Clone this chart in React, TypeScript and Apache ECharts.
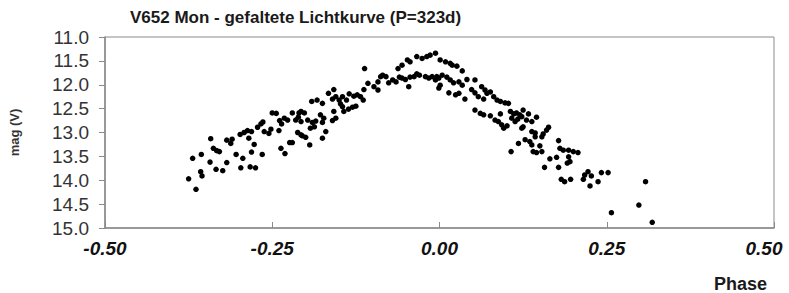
import React, { useEffect, useRef } from "react";
import * as echarts from "echarts";

const titleText = "V652 Mon - gefaltete Lichtkurve (P=323d)";
const xAxisTitle = "Phase";
const yAxisTitle = "mag (V)";

const phase: number[] = [
  -0.375, -0.364, -0.369, -0.356, -0.357, -0.355, -0.342, -0.343, -0.338, -0.333,
  -0.329, -0.334, -0.324, -0.318, -0.318, -0.310, -0.312, -0.304, -0.298, -0.292,
  -0.287, -0.281, -0.294, -0.297, -0.283, -0.275, -0.281, -0.277, -0.285, -0.272,
  -0.267, -0.264, -0.265, -0.262, -0.255, -0.252, -0.250, -0.244, -0.239, -0.236,
  -0.232, -0.227, -0.240, -0.237, -0.231, -0.224, -0.220, -0.220, -0.210, -0.215,
  -0.211, -0.207, -0.212, -0.207, -0.202, -0.207, -0.205, -0.200, -0.193, -0.194,
  -0.197, -0.190, -0.185, -0.187, -0.191, -0.183, -0.175, -0.178, -0.173, -0.175,
  -0.170, -0.175, -0.166, -0.158, -0.155, -0.160, -0.158, -0.160, -0.155, -0.150,
  -0.145, -0.139, -0.135, -0.148, -0.145, -0.143, -0.136, -0.130, -0.125, -0.128,
  -0.123, -0.118, -0.114, -0.113, -0.107, -0.112, -0.098, -0.092, -0.092, -0.088,
  -0.085, -0.076, -0.070, -0.065, -0.060, -0.062, -0.056, -0.048, -0.044, -0.046,
  -0.056, -0.051, -0.044, -0.038, -0.034, -0.030, -0.034, -0.026, -0.019, -0.014,
  -0.006, -0.021, -0.016, -0.011, -0.006, -0.001, -0.001, 0.001, 0.009, 0.019,
  0.026, 0.034, 0.041, 0.053, -0.004, 0.004, 0.011, 0.001, 0.016, 0.021,
  0.029, 0.034, 0.014, 0.024, 0.029, 0.038, 0.048, 0.053, 0.063, 0.068,
  0.071, 0.076, 0.058, 0.066, 0.081, 0.086, 0.091, 0.098, 0.103, 0.053,
  0.061, 0.066, 0.076, 0.083, 0.088, 0.093, 0.096, 0.101, 0.091, 0.106,
  0.111, 0.115, 0.120, 0.125, 0.108, 0.113, 0.117, 0.123, 0.130, 0.138,
  0.133, 0.145, 0.123, 0.138, 0.143, 0.153, 0.160, 0.163, 0.118, 0.128,
  0.135, 0.138, 0.107, 0.150, 0.178, 0.143, 0.155, 0.145, 0.153, 0.140,
  0.157, 0.165, 0.175, 0.180, 0.185, 0.193, 0.200, 0.207, 0.178, 0.193,
  0.195, 0.191, 0.182, 0.187, 0.196, 0.215, 0.217, 0.222, 0.227, 0.225,
  0.237, 0.242, 0.252, 0.257, 0.308, 0.298, 0.318, 0.125, 0.016, -0.080,
];

const mag: number[] = [
  13.97, 14.19, 13.54, 13.46, 13.82, 13.91, 13.13, 13.62, 13.33, 13.38,
  13.40, 13.77, 13.80, 13.63, 13.16, 13.14, 13.23, 13.46, 13.04, 13.00,
  12.96, 12.98, 13.54, 13.74, 13.72, 13.74, 13.41, 13.25, 13.12, 12.89,
  12.82, 12.78, 13.46, 12.98, 13.02, 12.93, 12.59, 12.60, 12.75, 12.82,
  12.70, 12.74, 12.96, 13.33, 13.44, 13.21, 13.21, 12.59, 12.59, 12.74,
  12.68, 12.77, 13.00, 13.05, 12.59, 12.56, 13.07, 13.10, 12.91, 13.26,
  12.74, 12.79, 12.76, 12.88, 12.35, 12.32, 12.39, 12.63, 12.70, 12.79,
  12.98, 13.12, 12.18, 12.10, 12.25, 12.30, 12.56, 12.75, 12.70, 12.32,
  12.25, 12.32, 12.19, 12.40, 12.46, 12.56, 12.51, 12.47, 12.45, 12.24,
  12.21, 12.25, 12.32, 12.10, 11.97, 11.66, 12.04, 12.11, 11.94, 11.83,
  11.80, 11.96, 11.90, 11.94, 11.84, 11.66, 11.59, 11.48, 11.52, 12.04,
  11.86, 11.89, 11.84, 11.83, 11.77, 11.80, 11.41, 11.45, 11.41, 11.38,
  11.34, 11.83, 11.86, 11.83, 11.90, 11.86, 12.07, 11.48, 11.52, 11.59,
  11.61, 11.71, 11.89, 11.90, 11.83, 11.80, 11.84, 12.01, 11.90, 11.96,
  11.94, 12.01, 12.17, 12.21, 12.18, 12.30, 12.10, 12.17, 12.04, 12.11,
  12.18, 12.15, 12.25, 12.30, 12.25, 12.32, 12.35, 12.38, 12.39, 12.53,
  12.60, 12.63, 12.65, 12.74, 12.77, 12.84, 12.91, 12.86, 12.61, 12.56,
  12.61, 12.59, 12.63, 12.53, 12.70, 12.77, 12.72, 12.67, 12.74, 12.77,
  12.61, 12.68, 12.91, 12.98, 13.09, 13.09, 12.95, 12.89, 13.23, 13.15,
  13.19, 13.26, 13.40, 13.28, 13.17, 13.01, 13.03, 13.42, 13.40, 13.40,
  13.73, 13.55, 13.52, 13.33, 13.37, 13.37, 13.40, 13.42, 13.73, 13.51,
  13.61, 13.64, 13.98, 14.03, 13.98, 13.98, 13.89, 13.82, 13.91, 14.12,
  14.03, 13.84, 13.84, 14.68, 14.03, 14.52, 14.88, 12.88, 11.55, 11.83,
];

const xTicks = { min: -0.5, max: 0.5, step: 0.25 };
const yTicks = { min: 11.0, max: 15.0, step: 0.5 };

export default function App() {
  const ref = useRef<HTMLDivElement>(null);

  useEffect(() => {
    document.body.style.margin = "0";
    if (!ref.current) return;
    const chart = echarts.init(ref.current, undefined, { renderer: "svg" });
    const points = phase.map((p, i) => [p, mag[i]]);
    const font = "Liberation Sans, Arial, sans-serif";
    chart.setOption({
      animation: false,
      backgroundColor: "#ffffff",
      title: {
        text: titleText,
        left: 130,
        top: 9,
        padding: 0,
        textStyle: { fontFamily: font, fontSize: 17, fontWeight: "bold", color: "#1a1a1a" },
      },
      grid: {
        left: 102,
        right: 15,
        top: 37,
        bottom: 65,
        show: true,
        borderColor: "#8a8a8a",
        borderWidth: 1,
        backgroundColor: "transparent",
      },
      xAxis: {
        type: "value",
        min: xTicks.min,
        max: xTicks.max,
        interval: xTicks.step,
        splitLine: { show: false },
        axisLine: { show: true, onZero: false, lineStyle: { color: "#8a8a8a", width: 1.5 } },
        axisTick: { show: true, inside: true, length: 6, lineStyle: { color: "#8a8a8a" } },
        axisLabel: {
          margin: 11,
          fontFamily: font,
          fontSize: 19,
          fontWeight: "bold",
          fontStyle: "italic",
          color: "#111",
          formatter: (v: number) =>
            Math.abs(v - 0.5) < 1e-9 ? "{r|" + v.toFixed(2) + "}" : v.toFixed(2),
          rich: {
            r: {
              fontFamily: font,
              fontSize: 19,
              fontWeight: "bold",
              fontStyle: "italic",
              color: "#111",
              padding: [0, 20, 0, 0],
            },
          },
        },
      },
      yAxis: {
        type: "value",
        inverse: true,
        min: yTicks.min,
        max: yTicks.max,
        interval: yTicks.step,
        name: yAxisTitle,
        nameLocation: "middle",
        nameGap: 84,
        nameRotate: 90,
        nameTextStyle: { fontFamily: font, fontSize: 13, fontWeight: "bold", color: "#333" },
        splitLine: { show: false },
        axisLine: { show: true, onZero: false, lineStyle: { color: "#8a8a8a", width: 1.5 } },
        axisTick: { show: true, inside: false, length: 6, lineStyle: { color: "#8a8a8a" } },
        axisLabel: {
          margin: 16,
          fontFamily: font,
          fontSize: 19,
          color: "#333",
          formatter: (v: number) => v.toFixed(1),
        },
      },
      graphic: [
        {
          type: "text",
          right: 22,
          top: 275,
          style: {
            text: xAxisTitle,
            fontFamily: font,
            fontSize: 18,
            fontWeight: "bold",
            fill: "#1a1a1a",
          },
        },
      ],
      series: [
        {
          type: "scatter",
          data: points,
          symbol: "circle",
          symbolSize: 5.5,
          itemStyle: { color: "#000000", opacity: 1 },
        },
      ],
    });
    return () => chart.dispose();
  }, []);

  return (
    <div
      ref={ref}
      style={{ position: "absolute", left: 0, top: 0, width: 789, height: 293 }}
    />
  );
}
